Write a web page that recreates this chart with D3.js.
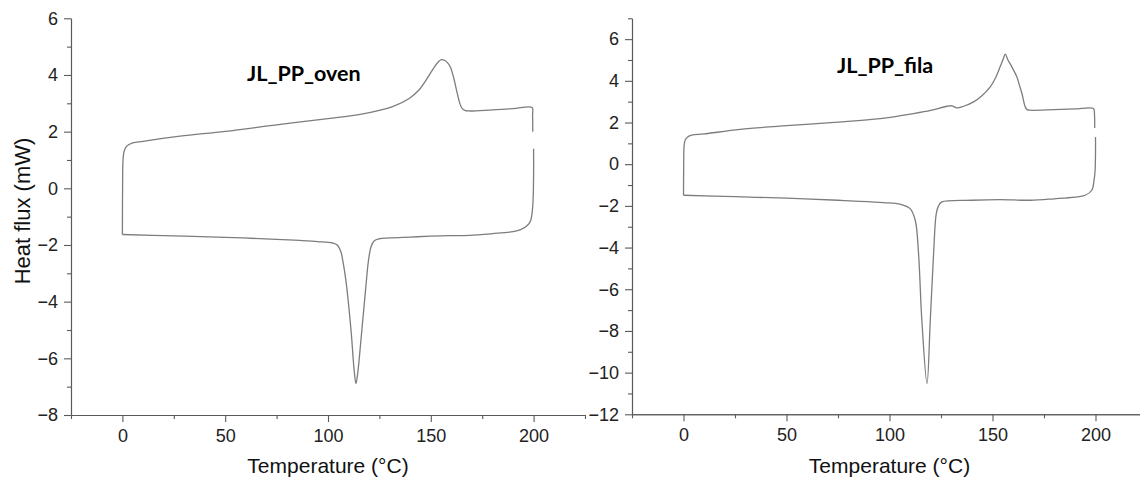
<!DOCTYPE html>
<html>
<head>
<meta charset="utf-8">
<script src="https://cdn.jsdelivr.net/npm/d3@7"></script>
<style>
  html, body { margin: 0; padding: 0; background: #fff; }
  svg { display: block; }
  .tick text { font-family: "Liberation Sans", Arial, sans-serif; font-size: 18px; fill: #222; }
  .axis-label { font-family: "Liberation Sans", Arial, sans-serif; fill: #111; }
  .title { font-family: Lato, "Open Sans", sans-serif; font-weight: 700; font-size: 21.5px; fill: #000; }
</style>
</head>
<body>
<svg id="chart" width="1140" height="479"></svg>
<script>
// DSC thermograms: heating and cooling runs for two PP samples

// ---- JL_PP_oven ----
const ovenHeatT = [0, 0.1, 0.3, 0.8, 2, 5, 10, 28, 50, 75, 100, 115, 125, 132, 139.5, 144, 147.6, 151, 153.5, 155.2, 157, 158.5, 159.7, 161.3, 162.9, 164.2, 165.3, 166.5, 168.6, 180, 190, 199.3, 199.5, 199.6];
const ovenHeatF = [-1.63, 0.2, 1.0, 1.3, 1.48, 1.6, 1.66, 1.84, 2.01, 2.24, 2.46, 2.6, 2.75, 2.9, 3.17, 3.45, 3.81, 4.2, 4.45, 4.54, 4.5, 4.4, 4.25, 3.85, 3.34, 2.98, 2.81, 2.75, 2.73, 2.77, 2.81, 2.85, 2.6, 2.0];
const ovenCoolT = [200, 200, 199.8, 199.4, 198.5, 196.9, 193.7, 190, 180, 168.6, 159, 150, 140, 130, 124.9, 122.5, 120.9, 119.6, 118.4, 116, 114.5, 113.6, 112.7, 111.2, 108.7, 107.3, 106.3, 104.5, 102.2, 95, 86, 75, 50, 25, 0];
const ovenCoolF = [1.4, 0.5, -0.3, -0.78, -1.15, -1.31, -1.46, -1.53, -1.60, -1.66, -1.67, -1.69, -1.72, -1.75, -1.78, -1.85, -2.07, -2.6, -3.48, -5.37, -6.5, -6.89, -6.4, -5.01, -3.25, -2.6, -2.25, -2.0, -1.93, -1.88, -1.84, -1.8, -1.73, -1.68, -1.63];

// ---- JL_PP_fila ----
const filaHeatT = [0, 0.1, 0.3, 0.8, 2, 4, 10, 27.5, 50, 75, 95.5, 111.7, 120, 127.9, 130.3, 132.7, 136, 140.8, 145, 148.9, 151.5, 153.7, 155.2, 156.2, 157.5, 159.4, 161.8, 163.2, 164.3, 165.9, 166.8, 168.3, 180, 190, 199, 199.5, 199.6];
const filaHeatF = [-1.49, 0, 0.9, 1.15, 1.3, 1.39, 1.45, 1.67, 1.85, 2.02, 2.19, 2.43, 2.58, 2.78, 2.80, 2.70, 2.78, 2.99, 3.3, 3.71, 4.15, 4.67, 5.05, 5.28, 5.0, 4.67, 4.19, 3.75, 3.39, 2.75, 2.62, 2.59, 2.62, 2.65, 2.67, 2.4, 1.74];
const filaCoolT = [200, 200, 199.8, 199.4, 198.2, 195, 190, 180, 168.3, 153.7, 140, 125.4, 123.8, 122.7, 121.4, 119.8, 118.2, 115.7, 114.1, 112.5, 110, 105.2, 97.1, 80.9, 75, 50, 25, 0];
const filaCoolF = [1.31, 0.5, -0.3, -0.69, -1.25, -1.49, -1.58, -1.66, -1.73, -1.70, -1.73, -1.81, -2.0, -2.37, -4.29, -7.49, -10.53, -7.49, -4.29, -2.69, -2.13, -1.92, -1.84, -1.76, -1.73, -1.63, -1.56, -1.49];

// Axis ticks
const xTicks = [0, 50, 100, 150, 200];
const xMinor = [-25, 25, 75, 125, 175, 225];
const ovenYTicks = [-8, -6, -4, -2, 0, 2, 4, 6];
const ovenYMinor = [-7, -5, -3, -1, 1, 3, 5];
const filaYTicks = [-12, -10, -8, -6, -4, -2, 0, 2, 4, 6];
const filaYMinor = [-11, -9, -7, -5, -3, -1, 1, 3, 5, 7];

const panels = [
  { title: "JL_PP_oven", heat: [ovenHeatT, ovenHeatF], cool: [ovenCoolT, ovenCoolF],
    yDomain: [-8, 6], yTicks: ovenYTicks, yMinor: ovenYMinor,
    xRange: [71, 585], yRange: [415, 18.3], titleX: 247, titleY: 81, yLabel: true },
  { title: "JL_PP_fila", heat: [filaHeatT, filaHeatF], cool: [filaCoolT, filaCoolF],
    yDomain: [-12, 7], yTicks: filaYTicks, yMinor: filaYMinor,
    xRange: [632, 1147], yRange: [414.3, 18.3], titleX: 837, titleY: 73, yLabel: false }
];

const svg = d3.select("#chart");
const axisColor = "#5a5a5a";
const lineColor = "#7d7d7d";
const fmt = d => d < 0 ? "\u2212" + Math.abs(d) : String(d);

panels.forEach(p => {
  const x = d3.scaleLinear().domain([-25, 225]).range(p.xRange);
  const y = d3.scaleLinear().domain(p.yDomain).range(p.yRange);
  const g = svg.append("g");

  // x axis: major and minor ticks
  const gx = g.append("g").attr("transform", `translate(0,${p.yRange[0]})`);
  gx.call(d3.axisBottom(x).tickValues(xTicks).tickSize(7).tickPadding(7).tickFormat(fmt).tickSizeOuter(0));
  gx.call(a => a.append("g").call(d3.axisBottom(x).tickValues(xMinor).tickSize(4).tickFormat("").tickSizeOuter(0)));

  // y axis
  const gy = g.append("g").attr("transform", `translate(${p.xRange[0]},0)`);
  gy.call(d3.axisLeft(y).tickValues(p.yTicks).tickSize(7).tickPadding(6).tickFormat(fmt).tickSizeOuter(0));
  gy.call(a => a.append("g").call(d3.axisLeft(y).tickValues(p.yMinor).tickSize(4).tickFormat("").tickSizeOuter(0)));

  g.selectAll(".domain, .tick line").attr("stroke", axisColor).attr("stroke-width", 1.1);

  // x axis title
  g.append("text").attr("class", "axis-label")
    .attr("x", x(100)).attr("y", 473)
    .attr("text-anchor", "middle").attr("font-size", 21)
    .text("Temperature (°C)");

  if (p.yLabel) {
    g.append("text").attr("class", "axis-label")
      .attr("transform", `translate(30,211) rotate(-90)`)
      .attr("text-anchor", "middle").attr("font-size", 22)
      .text("Heat flux (mW)");
  }

  // heating and cooling traces
  const line = d3.line().x(d => x(d[0])).y(d => y(d[1])).curve(d3.curveCatmullRom.alpha(0.5));
  [p.heat, p.cool].forEach(([ts, fs]) => {
    const pts = ts.map((t, i) => [t, fs[i]]);
    g.append("path").datum(pts)
      .attr("fill", "none").attr("stroke", lineColor).attr("stroke-width", 1.3)
      .attr("d", line);
  });

  g.append("text").attr("class", "title")
    .attr("x", p.titleX).attr("y", p.titleY)
    .text(p.title);
});
</script>
</body>
</html>
